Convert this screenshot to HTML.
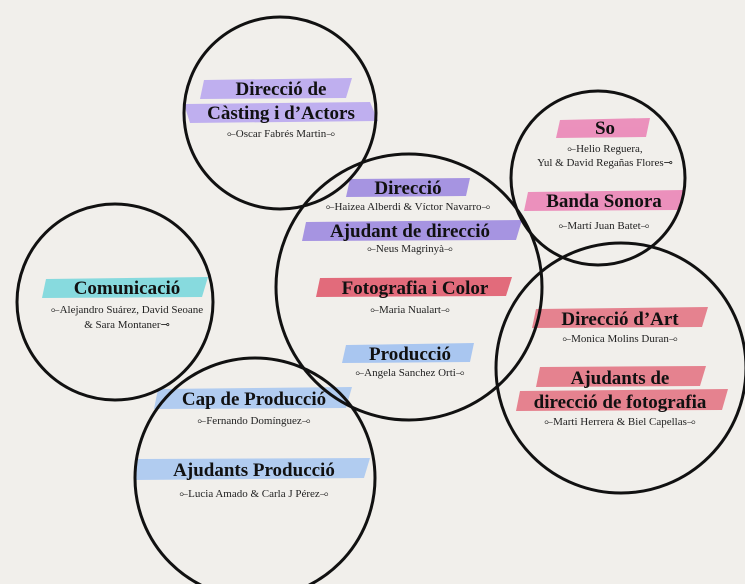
<!DOCTYPE html>
<html><head><meta charset="utf-8"><style>
html,body{margin:0;padding:0;background:#f1efeb;}
svg{display:block}
.t{font-family:"Liberation Serif","DejaVu Serif",serif;font-weight:bold;font-size:19px;fill:#111;text-anchor:middle}
.n{font-family:"Liberation Serif","DejaVu Serif",serif;font-size:11px;fill:#222;text-anchor:middle}
</style></head><body>
<svg width="745" height="584" viewBox="0 0 745 584" xmlns="http://www.w3.org/2000/svg">
<rect width="745" height="584" fill="#f1efeb"/>
<g opacity="0.85">
<!-- brushes -->
<polygon points="204,80 352,78 346,98 200,99" fill="#b7a5f0"/>
<polygon points="184,104 370,102 378,121 190,123" fill="#b7a5f0"/>
<polygon points="350,179 470,178 466,196 346,197" fill="#9a85e0"/>
<polygon points="306,222 522,220 516,240 302,241" fill="#9a85e0"/>
<polygon points="320,278 512,277 506,296 316,297" fill="#e05468"/>
<polygon points="346,345 474,343 470,362 342,363" fill="#9dbff2"/>
<polygon points="46,279 208,277 202,297 42,298" fill="#74d6dc"/>
<polygon points="158,389 352,387 346,408 154,409" fill="#a7c6f2"/>
<polygon points="138,459 370,458 364,478 134,480" fill="#a7c6f2"/>
<polygon points="560,120 650,118 646,137 556,138" fill="#ea80b4"/>
<polygon points="528,192 684,190 678,210 524,211" fill="#ea80b4"/>
<polygon points="536,309 708,307 702,327 532,328" fill="#e3707f"/>
<polygon points="540,367 706,366 700,386 536,387" fill="#e3707f"/>
<polygon points="520,391 728,389 722,410 516,411" fill="#e3707f"/>
</g>
<g fill="none" stroke="#111" stroke-width="3">
<circle cx="280" cy="113" r="96"/>
<circle cx="409" cy="287" r="133"/>
<circle cx="115" cy="302" r="98"/>
<circle cx="255" cy="478" r="120"/>
<circle cx="598" cy="178" r="87"/>
<circle cx="621" cy="368" r="125"/>
</g>
<text class="t" x="281" y="95">Direcció de</text>
<text class="t" x="281" y="119">Càsting i d’Actors</text>
<text class="n" x="281" y="137">⟜Oscar Fabrés Martin⊸</text>
<text class="t" x="408" y="194">Direcció</text>
<text class="n" x="408" y="210">⟜Haizea Alberdi &amp; Víctor Navarro⊸</text>
<text class="t" x="410" y="237">Ajudant de direcció</text>
<text class="n" x="410" y="252">⟜Neus Magrinyà⊸</text>
<text class="t" x="415" y="294">Fotografia i Color</text>
<text class="n" x="410" y="313">⟜Maria Nualart⊸</text>
<text class="t" x="410" y="360">Producció</text>
<text class="n" x="410" y="376">⟜Angela Sanchez Orti⊸</text>
<text class="t" x="127" y="294">Comunicació</text>
<text class="n" x="127" y="313">⟜Alejandro Suárez, David Seoane</text>
<text class="n" x="127" y="328">&amp; Sara Montaner⊸</text>
<text class="t" x="254" y="405">Cap de Producció</text>
<text class="n" x="254" y="424">⟜Fernando Domínguez⊸</text>
<text class="t" x="254" y="476">Ajudants Producció</text>
<text class="n" x="254" y="497">⟜Lucia Amado &amp; Carla J Pérez⊸</text>
<text class="t" x="605" y="134">So</text>
<text class="n" x="605" y="152">⟜Helio Reguera,</text>
<text class="n" x="605" y="166">Yul &amp; David Regañas Flores⊸</text>
<text class="t" x="604" y="207">Banda Sonora</text>
<text class="n" x="604" y="229">⟜Martí Juan Batet⊸</text>
<text class="t" x="620" y="325">Direcció d’Art</text>
<text class="n" x="620" y="342">⟜Monica Molins Duran⊸</text>
<text class="t" x="620" y="384">Ajudants de</text>
<text class="t" x="620" y="408">direcció de fotografia</text>
<text class="n" x="620" y="425">⟜Marti Herrera &amp; Biel Capellas⊸</text>
</svg>
</body></html>
